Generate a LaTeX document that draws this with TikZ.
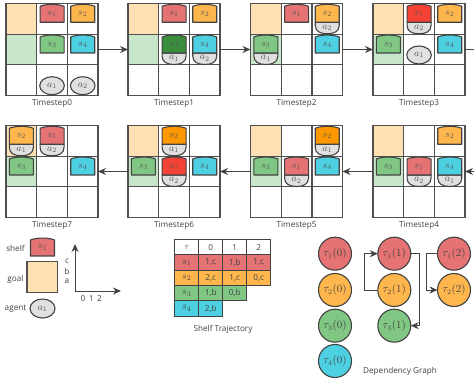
\documentclass[tikz,border=0pt]{standalone}
\usepackage{fontspec}
\setmainfont{Open Sans}
\usetikzlibrary{arrows.meta,shapes.geometric}
\definecolor{sred}{HTML}{E57373}
\definecolor{sorange}{HTML}{FFB74D}
\definecolor{sgreen}{HTML}{81C784}
\definecolor{sblue}{HTML}{4DD0E1}
\definecolor{hred}{HTML}{F44336}
\definecolor{horange}{HTML}{FF9800}
\definecolor{hgreen}{HTML}{388E3C}
\definecolor{goalo}{HTML}{FFE0B2}
\definecolor{goalg}{HTML}{C8E6C9}
\definecolor{agentc}{HTML}{E0E0E0}
\definecolor{ink}{HTML}{424242}
\definecolor{gridc}{HTML}{505050}
\tikzset{
  panelbox/.style={draw=gridc,line width=1.2pt,minimum size=92pt,inner sep=0pt,outer sep=0pt},
  gridline/.style={draw=gridc,line width=1.2pt},
  shelfline/.style={draw=ink,line width=1.1pt,line join=round},
  mathlabel/.style={text=ink!90,font=\fontsize{10}{11}\selectfont,inner sep=0pt},
  caption/.style={text=ink,font=\fontsize{8.2}{10}\selectfont,inner sep=0pt},
  flow/.style={draw=ink,line width=1pt,-{Stealth[length=8pt,width=7pt]}},
  circ/.style={circle,draw=ink,line width=1.1pt,minimum size=33pt,inner sep=0pt,outer sep=0pt,text=ink,font=\fontsize{10.5}{11}\selectfont},
  tcell/.style={draw=ink,line width=1.1pt,minimum width=24pt,minimum height=15.3pt,inner sep=0pt,outer sep=0pt,text=ink,font=\fontsize{8.2}{10}\selectfont},
}
\newcommand\setcell[2]{\pgfmathsetmacro\cx{15.35+30.7*#1}\pgfmathsetmacro\cy{30.7*#2+0.8}}
\newcommand\shelfbody[3]{%
  \draw[shelfline,fill=#1] (\cx-12,\cy+18) -- (\cx-12,\cy+2) .. controls (\cx-6,\cy-0.6) and (\cx+6,\cy-0.6) .. (\cx+12,\cy+2) -- (\cx+12,\cy+18) -- cycle;
  \node[mathlabel] (\pid-s#2) at (\cx,\cy+9.7) {$s_{#2}$};}
\newcommand\shelfonly[4]{\setcell{#1}{#2}\shelfbody{#3}{#4}{}}
\newcommand\shelfagent[5]{\setcell{#1}{#2}%
  \draw[shelfline,fill=agentc] (\cx-12,\cy+18) -- (\cx-12,\cy+21) .. controls (\cx-12,\cy+27) and (\cx-7,\cy+29.5) .. (\cx,\cy+29.5) .. controls (\cx+7,\cy+29.5) and (\cx+12,\cy+27) .. (\cx+12,\cy+21) -- (\cx+12,\cy+18) -- cycle;
  \node[mathlabel] (\pid-a#5) at (\cx,\cy+23.3) {$a_{#5}$};
  \shelfbody{#3}{#4}{}}
\newcommand\agentonly[3]{\setcell{#1}{#2}%
  \draw[shelfline,fill=agentc] (\cx,\cy+20) ellipse [x radius=12.3,y radius=9];
  \node[mathlabel] (\pid-a#3) at (\cx,\cy+20) {$a_{#3}$};}
\newcommand\panel[5]{%
  \begin{scope}[shift={(#2,#3)}]
    \def\pid{p#1}
    \fill[goalo] (0,0) rectangle (30.7,30.7);
    \fill[goalg] (0,30.7) rectangle (30.7,61.4);
    \node[panelbox] (p#1) at (46,46) {};
    \draw[gridline] (30.7,0) -- (30.7,92) (61.4,0) -- (61.4,92) (0,30.7) -- (92,30.7) (0,61.4) -- (92,61.4);
    #5
    \node[caption] (cap#1) at (46,#4) {Timestep#1};
  \end{scope}}
\begin{document}
\begin{tikzpicture}[x=1pt,y=-1pt]
\useasboundingbox (0,0) rectangle (474,382);
\panel{0}{6}{3.5}{99.5}{
  \shelfonly{1}{0}{sred}{1}\shelfonly{2}{0}{sorange}{2}\shelfonly{1}{1}{sgreen}{3}\shelfonly{2}{1}{sblue}{4}
  \agentonly{1}{2}{1}\agentonly{2}{2}{2}}
\panel{1}{128}{3.5}{99.5}{
  \shelfonly{1}{0}{sred}{1}\shelfonly{2}{0}{sorange}{2}\shelfagent{1}{1}{hgreen}{3}{1}\shelfagent{2}{1}{sblue}{4}{2}}
\panel{2}{250.5}{3.5}{99.5}{
  \shelfonly{1}{0}{sred}{1}\shelfagent{2}{0}{sorange}{2}{2}\shelfagent{0}{1}{sgreen}{3}{1}\shelfonly{2}{1}{sblue}{4}}
\panel{3}{373}{3.5}{99.5}{
  \shelfagent{1}{0}{hred}{1}{2}\shelfonly{2}{0}{sorange}{2}\shelfonly{0}{1}{sgreen}{3}\agentonly{1}{1}{1}\shelfonly{2}{1}{sblue}{4}}
\panel{4}{373}{125.5}{99.5}{
  \shelfonly{2}{0}{sorange}{2}\shelfonly{0}{1}{sgreen}{3}\shelfagent{1}{1}{sred}{1}{2}\shelfagent{2}{1}{sblue}{4}{1}}
\panel{5}{250.5}{125.5}{99.5}{
  \shelfagent{2}{0}{horange}{2}{1}\shelfonly{0}{1}{sgreen}{3}\shelfagent{1}{1}{sred}{1}{2}\shelfonly{2}{1}{sblue}{4}}
\panel{6}{128}{125.5}{99.5}{
  \shelfagent{1}{0}{horange}{2}{1}\shelfonly{0}{1}{sgreen}{3}\shelfagent{1}{1}{hred}{1}{2}\shelfonly{2}{1}{sblue}{4}}
\panel{7}{6}{125.5}{99.5}{
  \shelfagent{0}{0}{sorange}{2}{1}\shelfagent{1}{0}{sred}{1}{2}\shelfonly{0}{1}{sgreen}{3}\shelfonly{2}{1}{sblue}{4}}
% flow arrows
\coordinate (rout) at (474,49.5);
\coordinate (rin) at (474,171.5);
\draw[flow] (p0.east) -- (p1.west);
\draw[flow] (p1.east) -- (p2.west);
\draw[flow] (p2.east) -- (p3.west);
\draw[draw=ink,line width=1pt] (p3.east) -- (rout);
\draw[flow] (rin) -- (p4.east);
\draw[flow] (p4.west) -- (p5.east);
\draw[flow] (p5.west) -- (p6.east);
\draw[flow] (p6.west) -- (p7.east);
% legend
\def\pid{leg}
\draw[shelfline,fill=sred] (30.5,256) -- (30.5,240) .. controls (36.5,237.4) and (48.5,237.4) .. (54.5,240) -- (54.5,256) -- cycle;
\node[mathlabel] (legs) at (42.5,247.5) {$s_1$};
\node[caption] (legshelf) at (15.5,248) {shelf};
\node[draw=gridc,fill=goalo,line width=1.2pt,minimum size=30.5pt,inner sep=0pt] (leggoal) at (42.3,277) {};
\node[caption] (leggoaltxt) at (15.5,279) {goal};
\node[draw=ink,line width=1.1pt,fill=agentc,ellipse,minimum width=25pt,minimum height=19pt,inner sep=0pt] (lega) at (42.5,308.5) {};
\node[mathlabel] (legatxt) at (42.5,309) {$a_1$};
\node[caption] (legagent) at (15.5,309) {agent};
\coordinate (ax0) at (75,291);
\coordinate (axy) at (75,244);
\coordinate (axx) at (121,291);
\draw[flow] (ax0) -- (axy);
\draw[flow] (ax0) -- (axx);
\node[caption] (lc) at (67,261.5) {c};
\node[caption] (lb) at (67,271) {b};
\node[caption] (la) at (67,281) {a};
\node[caption] (l0) at (83,298.5) {0};
\node[caption] (l1) at (91.5,298.5) {1};
\node[caption] (l2) at (99.5,298.5) {2};
% table
\foreach \tt [count=\i from 0] in {$\tau$,0,1,2}
  \node[tcell,fill=white] (th\i) at (186.7+24*\i,247.3) {\tt};
\foreach \nn/\cc/\ra/\rb/\rc [count=\r from 1] in {1/sred/{1,c}/{1,b}/{1,c},2/sorange/{2,c}/{1,c}/{0,c},3/sgreen/{1,b}/{0,b}/,4/sblue/{2,b}//}{
  \pgfmathsetmacro\ry{247.3+15.3*\r}
  \node[tcell,fill=\cc,font=\fontsize{10}{11}\selectfont] (tr\r) at (186.7,\ry) {$s_{\nn}$};
  \node[tcell,fill=\cc] (tr\r a) at (210.7,\ry) {\ra};
  \ifx\rb\empty\else\node[tcell,fill=\cc] (tr\r b) at (234.7,\ry) {\rb};\fi
  \ifx\rc\empty\else\node[tcell,fill=\cc] (tr\r c) at (258.7,\ry) {\rc};\fi
}
\node[caption] (tcap) at (223,329.7) {Shelf Trajectory};
% dependency graph
\node[circ,fill=sred] (t10) at (335,253.7) {$\tau_1(0)$};
\node[circ,fill=sorange] (t20) at (335,290) {$\tau_2(0)$};
\node[circ,fill=sgreen] (t30) at (335,325.7) {$\tau_3(0)$};
\node[circ,fill=sblue] (t40) at (335,361) {$\tau_4(0)$};
\node[circ,fill=sred] (t11) at (394.3,253.7) {$\tau_1(1)$};
\node[circ,fill=sorange] (t21) at (394.3,290) {$\tau_2(1)$};
\node[circ,fill=sgreen] (t31) at (394.3,325.7) {$\tau_3(1)$};
\node[circ,fill=sred] (t12) at (454,253.7) {$\tau_1(2)$};
\node[circ,fill=sorange] (t22) at (454,290) {$\tau_2(2)$};
\draw[flow] (t21.west) -- ++(-13.5,0) |- (t11.west);
\draw[flow] (t11.east) -- ++(9,0) |- (t31.east);
\draw[flow] (t12.west) -- ++(-11.5,0) |- (t22.west);
\node[caption] (dcap) at (400,371.7) {Dependency Graph};
\end{tikzpicture}
\end{document}
